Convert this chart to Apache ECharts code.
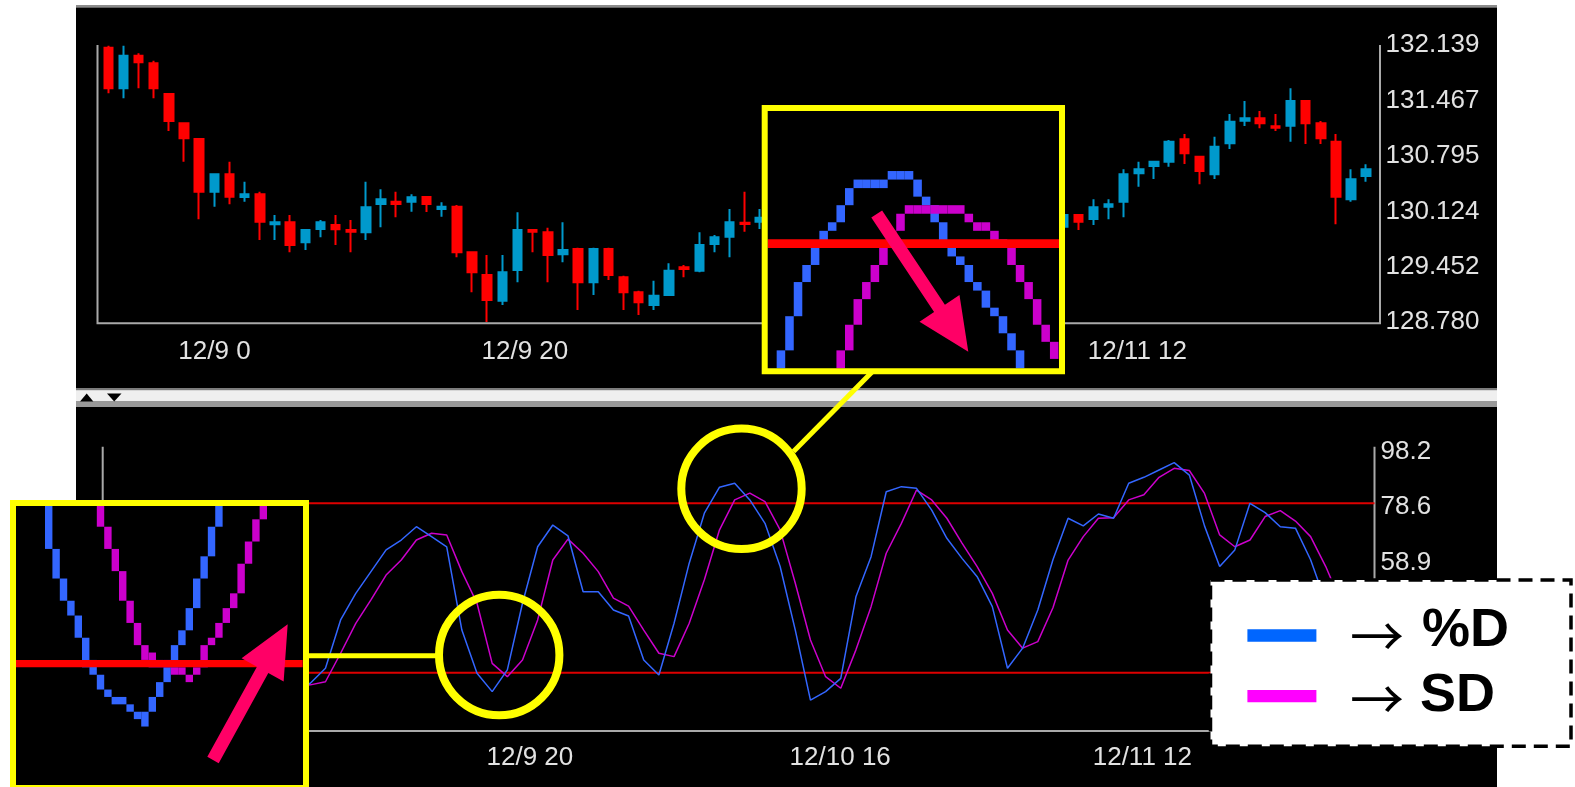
<!DOCTYPE html>
<html><head><meta charset="utf-8">
<script src="https://cdn.jsdelivr.net/npm/echarts@6/dist/echarts.min.js"></script>
<style>html,body{margin:0;padding:0;background:#fff}#c{width:1575px;height:787px}</style>
</head><body><div id="c"></div>
<script>
// ---------------- data ----------------
const priceTicks = [128.780, 129.452, 130.124, 130.795, 131.467, 132.139];
const stochTicks = [0, 19.6, 39.3, 58.9, 78.6, 98.2];
const levels = [20, 80];
const xTickIndex = [7, 27, 47, 67];

// hourly categories starting 12/8 17h
const times = [];
(function(){ let d = 8, h = 17; for (let i = 0; i < 84; i++) { times.push('12/' + d + ' ' + h); h++; if (h === 24) { h = 0; d++; } } })();

// [open, close, low, high]; '-' = hidden behind the inset box
const candles = [
 [132.110,131.617,131.557,132.134],[131.617,132.013,131.496,132.134],[132.013,131.933,131.617,132.042],[131.921,131.617,131.496,131.952],
 [131.548,131.220,131.099,131.560],[131.193,131.010,130.727,131.205],[131.002,130.362,130.028,131.010],[130.362,130.574,130.180,130.580],
 [130.574,130.302,130.210,130.727],[130.298,130.331,130.241,130.484],[130.331,129.998,129.776,130.362],[129.967,129.991,129.776,130.080],
 [129.991,129.716,129.627,130.080],[129.748,129.898,129.655,129.905],[129.910,129.991,129.809,130.019],[129.958,129.906,129.716,130.080],
 [129.898,129.877,129.627,130.019],[129.870,130.173,129.776,130.484],[130.213,130.270,129.930,130.392],[130.241,130.213,130.052,130.362],
 [130.241,130.295,130.120,130.331],[130.298,130.213,130.116,130.305],[130.153,130.180,130.059,130.234],[130.180,129.627,129.566,130.201],
 [129.627,129.384,129.142,129.630],[129.352,129.048,128.780,129.594],[129.040,129.384,128.988,129.594],[129.412,129.898,129.263,130.113],
 [129.898,129.877,129.627,129.900],[129.870,129.594,129.263,129.926],[129.603,129.655,129.506,129.991],[129.667,129.263,128.927,129.683],
 [129.263,129.667,129.109,129.683],[129.667,129.352,129.291,129.683],[129.324,129.142,128.927,129.343],[129.142,129.020,128.866,129.161],
 [128.988,129.100,128.927,129.282],[129.109,129.404,129.100,129.494],[129.445,129.424,129.324,129.473],[129.404,129.716,129.384,129.870],
 [129.728,129.809,129.627,129.837],[129.816,129.991,129.566,130.153],[129.986,129.971,129.877,130.362],[129.998,130.047,129.910,130.153],
 ['-','-','-','-'],['-','-','-','-'],['-','-','-','-'],['-','-','-','-'],['-','-','-','-'],['-','-','-','-'],['-','-','-','-'],
 ['-','-','-','-'],['-','-','-','-'],['-','-','-','-'],['-','-','-','-'],['-','-','-','-'],['-','-','-','-'],['-','-','-','-'],
 ['-','-','-','-'],['-','-','-','-'],['-','-','-','-'],['-','-','-','-'],['-','-','-','-'],
 [129.938,130.080,129.858,130.153],[130.080,129.998,129.898,130.080],[130.031,130.173,129.958,130.270],[130.180,130.210,130.028,130.270],
 [130.241,130.574,130.052,130.634],[130.586,130.634,130.423,130.727],[130.674,130.727,130.517,130.730],[130.727,130.969,130.666,130.990],
 [130.998,130.828,130.699,131.063],[130.787,130.614,130.452,130.790],[130.574,130.909,130.517,131.030],[130.950,131.212,130.881,131.305],
 [131.224,131.253,131.160,131.463],[131.253,131.193,131.132,131.342],[131.156,131.139,131.099,131.305],[131.163,131.463,130.969,131.617],
 [131.463,131.193,130.941,131.470],[131.193,131.010,130.941,131.220],[130.969,130.302,129.967,131.063],[130.270,130.513,130.241,130.634],
 [130.553,130.634,130.484,130.695]
];

// %D (blue) and SD (magenta)
const pctD = ['-','-','-','-','-','-','-','-','-','-','-','-',
 13,16.3,21.6,38.7,48.1,55.8,63.5,67.0,71.7,68.2,64.6,35.1,19.8,13.3,21.0,44.6,64.6,72.3,
 68.5,48.7,48.7,42.2,40.1,24.5,19.2,37.5,58.8,76.5,85.7,87.1,81.2,72.9,57.6,35.1,10.3,13.3,18.0,46.9,
 61.1,84.1,85.9,85.3,77.6,67.6,60.5,54.0,43.4,21.6,28.7,42.2,60.0,74.7,72.0,76.2,74.7,87.1,89.2,91.8,
 94.4,90.0,72.0,57.6,63.5,80.0,76.7,71.7,71.2,60.0,45,'-','-','-'];
const sdLine = ['-','-','-','-','-','-','-','-','-','-','-','-',
 15,15.7,16.8,26.9,37.5,45.8,54.6,59.9,67.0,69.4,68.8,55.8,44.6,23.3,18.6,24.5,38.7,59.9,
 67.3,62.3,55.8,46.4,43.6,35.1,26.9,25.7,37.5,52.9,70.6,81.2,83.6,80.6,70.6,51.7,31.6,18.6,14.5,28.1,
 43.4,62.3,72.9,84.7,81.2,74.7,65.9,57.6,48.1,35.1,28.7,31.0,43.0,59.9,68.2,74.7,74.9,81.2,83.0,89.2,
 92.4,91.6,83.5,68.8,64.6,67.0,75.3,77.4,73.7,68.2,57.6,45,'-','-'];

// magnified insets: [column, rowTop, rowBottom] in screen-pixel units of the zoomed region
const topInsetBlue = [[0,21,24],[1,17,21],[2,13,17],[3,11,13],[4,9,11],[5,7,9],[6,6,7],[7,4,6],[8,2,4],[9,1,2],[10,1,2],[11,1,2],[12,1,2],
 [13,0,1],[14,0,1],[15,0,1],[16,1,3],[17,3,4],[18,4,6],[19,6,9],[20,9,10],[21,10,11],[22,11,13],[23,13,14],[24,14,16],[25,16,17],
 [26,17,19],[27,19,21],[28,21,24]];
const topInsetMagenta = [[7,21,24],[8,18,21],[9,15,18],[10,13,15],[11,11,13],[12,9,11],[13,7,9],[14,5,7],[15,4,5],[16,4,5],[17,4,5],
 [18,4,5],[19,4,5],[20,4,5],[21,4,5],[22,5,6],[23,6,7],[24,6,7],[25,7,9],[26,8,9],[27,9,11],[28,11,13],[29,13,15],[30,15,18],
 [31,18,20],[32,20,22]];
const topInsetLevelRow = 8;
const botInsetBlue = [[0,-22,-15],[1,-15,-11],[2,-11,-8],[3,-8,-6],[4,-6,-3],[5,-3,1],[6,0,2],[7,2,4],[8,4,5],[9,5,6],[10,5,6],
 [11,6,7],[12,7,8],[13,7,9],[14,5,7],[15,3,5],[16,1,3],[17,-2,1],[18,-4,-2],[19,-7,-4],[20,-11,-7],[21,-14,-11],[22,-18,-14],[23,-22,-18]];
const botInsetMagenta = [[7,-22,-18],[8,-18,-15],[9,-15,-12],[10,-12,-8],[11,-8,-5],[12,-5,-2],[13,-2,0],[14,-1,1],[15,0,1],[16,0,1],
 [17,1,2],[18,1,2],[19,2,3],[20,1,2],[21,-2,1],[22,-3,-2],[23,-5,-3],[24,-7,-5],[25,-9,-7],[26,-13,-9],[27,-16,-13],[28,-19,-16],[29,-22,-19]];
const botInsetLevelRow = 0;

const legendNames = ['%D', 'SD'];

// ---------------- chart ----------------
const chart = echarts.init(document.getElementById('c'), null, {renderer: 'canvas'});
const AX = {fontFamily: 'Liberation Sans', fontSize: 26, color: '#e2e2e2'};

function cells(params, api) {
  const c = api.value(0), t = api.value(1), b = api.value(2);
  const p1 = api.coord([c, t]), p2 = api.coord([c + 1, b]);
  const r = echarts.graphic.clipRectByRect({
    x: Math.min(p1[0], p2[0]), y: Math.min(p1[1], p2[1]),
    width: Math.abs(p2[0] - p1[0]), height: Math.abs(p2[1] - p1[1])
  }, params.coordSys);
  return r && {type: 'rect', shape: r, style: {fill: api.visual('color')}};
}
function band(params, api) {
  const t = api.value(1), b = api.value(2);
  const cs = params.coordSys;
  const p1 = api.coord([0, t]), p2 = api.coord([0, b]);
  return {type: 'rect', shape: {x: cs.x, y: Math.min(p1[1], p2[1]), width: cs.width, height: Math.abs(p2[1] - p1[1])}, style: {fill: '#ff0000'}};
}

const xLabel = {
  interval: (i) => xTickIndex.indexOf(i) >= 0,
  formatter: (v) => '{t|' + v + '}',
  rich: {t: Object.assign({width: 72, align: 'left'}, AX)}
};

chart.setOption({
  animation: false,
  backgroundColor: '#ffffff',
  grid: [
    {left: 100.7, top: 45.3, width: 1273.1, height: 276.8},
    {left: 105.7, top: 451.9, width: 1273.1, height: 277.3},
    {left: 767.7, top: 111, width: 291.3, height: 257.3},
    {left: 16, top: 506, width: 286.7, height: 279}
  ],
  xAxis: [
    {type: 'category', gridIndex: 0, data: times, boundaryGap: true, axisLine: {show: false}, axisTick: {show: false},
     axisLabel: Object.assign({margin: 17}, xLabel), splitLine: {show: false}},
    {type: 'category', gridIndex: 1, data: times, boundaryGap: true, axisLine: {show: false}, axisTick: {show: false},
     axisLabel: Object.assign({margin: 16}, xLabel), splitLine: {show: false}},
    {type: 'value', gridIndex: 2, min: -1.05, max: 33.06, show: false},
    {type: 'value', gridIndex: 3, min: -3.92, max: 34.82, show: false}
  ],
  yAxis: [
    {type: 'value', gridIndex: 0, position: 'right', offset: 6.2, min: 128.780, max: 132.139,
     axisLine: {show: false}, axisTick: {show: false}, splitLine: {show: false},
     axisLabel: Object.assign({margin: 5.5, customValues: priceTicks, formatter: (v) => v.toFixed(3), padding: [0, 0, 4, 0]}, AX)},
    {type: 'value', gridIndex: 1, position: 'right', offset: -4.3, min: 0, max: 98.2,
     axisLine: {show: false}, axisTick: {show: false}, splitLine: {show: false},
     axisLabel: Object.assign({margin: 6, customValues: stochTicks, formatter: (v) => v.toFixed(1), padding: [0, 0, 4, 0]}, AX)},
    {type: 'value', gridIndex: 2, min: -7.03, max: 23.1, inverse: true, show: false},
    {type: 'value', gridIndex: 3, min: -20.8, max: 16.9, inverse: true, show: false}
  ],
  series: [
    {type: 'candlestick', xAxisIndex: 0, yAxisIndex: 0, data: candles, barWidth: 9,
     itemStyle: {color: '#0099cc', color0: '#ff0000', borderColor: '#0099cc', borderColor0: '#ff0000', borderWidth: 2}},
    {type: 'line', name: legendNames[1], xAxisIndex: 1, yAxisIndex: 1, data: sdLine, showSymbol: false,
     lineStyle: {color: '#cc00cc', width: 1.5}, itemStyle: {color: '#cc00cc'}},
    {type: 'line', name: legendNames[0], xAxisIndex: 1, yAxisIndex: 1, data: pctD, showSymbol: false,
     lineStyle: {color: '#3366ff', width: 1.5}, itemStyle: {color: '#3366ff'}},
    {type: 'custom', xAxisIndex: 2, yAxisIndex: 2, z: 11, data: topInsetBlue, encode: {x: 0, y: [1, 2]}, renderItem: cells, itemStyle: {color: '#3366ff'}},
    {type: 'custom', xAxisIndex: 2, yAxisIndex: 2, z: 11, data: topInsetMagenta, encode: {x: 0, y: [1, 2]}, renderItem: cells, itemStyle: {color: '#cc00cc'}},
    {type: 'custom', xAxisIndex: 2, yAxisIndex: 2, z: 12, data: [[0, topInsetLevelRow, topInsetLevelRow + 1]], encode: {x: 0, y: [1, 2]}, renderItem: band},
    {type: 'custom', xAxisIndex: 3, yAxisIndex: 3, z: 11, data: botInsetBlue, encode: {x: 0, y: [1, 2]}, renderItem: cells, itemStyle: {color: '#3366ff'}},
    {type: 'custom', xAxisIndex: 3, yAxisIndex: 3, z: 11, data: botInsetMagenta, encode: {x: 0, y: [1, 2]}, renderItem: cells, itemStyle: {color: '#cc00cc'}},
    {type: 'custom', xAxisIndex: 3, yAxisIndex: 3, z: 12, data: [[0, botInsetLevelRow, botInsetLevelRow + 1]], encode: {x: 0, y: [1, 2]}, renderItem: band}
  ]
});

// ---------------- decorations ----------------
function arrowPoly(tail, tip, shaftHalf, headLen, headHalf) {
  const dx = tip[0] - tail[0], dy = tip[1] - tail[1], L = Math.hypot(dx, dy);
  const ux = dx / L, uy = dy / L, nx = -uy, ny = ux;
  const bx = tip[0] - ux * headLen, by = tip[1] - uy * headLen;
  return [[tail[0] + nx * shaftHalf, tail[1] + ny * shaftHalf], [bx + nx * shaftHalf, by + ny * shaftHalf],
          [bx + nx * headHalf, by + ny * headHalf], tip, [bx - nx * headHalf, by - ny * headHalf],
          [bx - nx * shaftHalf, by - ny * shaftHalf], [tail[0] - nx * shaftHalf, tail[1] - ny * shaftHalf]];
}
const G = [];
const PW = 1421; // panel width (x 76 .. 1497)
const rect = (x, y, w, h, fill, z) => G.push({type: 'rect', z: z, silent: true, shape: {x, y, width: w, height: h}, style: {fill}});
// panels
rect(76, 5, PW, 2.5, '#8c8c8c', -5);
rect(76, 7.5, PW, 380.5, '#000000', -5);
rect(76, 388, PW, 2.5, '#7c7c7c', -5);
rect(76, 390.5, PW, 10.5, '#efefef', -5);
rect(76, 401, PW, 6, '#999999', -5);
rect(76, 407, PW, 380, '#000000', -5);
G.push({type: 'polygon', z: -4, shape: {points: [[80, 401.5], [86.7, 393.5], [93.3, 401.5]]}, style: {fill: '#000'}});
G.push({type: 'polygon', z: -4, shape: {points: [[107, 393.5], [121.5, 393.5], [114.2, 401.5]]}, style: {fill: '#000'}});
// axis frames
G.push({type: 'polyline', z: 1, shape: {points: [[97.5, 45], [97.5, 323.3], [1380, 323.3], [1380, 45]]}, style: {stroke: '#a9a9a9', lineWidth: 2, fill: null}});
G.push({type: 'polyline', z: 1, shape: {points: [[102.7, 446.7], [102.7, 731], [1374.5, 731], [1374.5, 446.7]]}, style: {stroke: '#a9a9a9', lineWidth: 2, fill: null}});
// level lines 20 / 80
levels.forEach(function (lv) {
  const y = chart.convertToPixel({yAxisIndex: 1}, lv);
  G.push({type: 'line', z: 1, shape: {x1: 102.7, y1: y, x2: 1374.5, y2: y}, style: {stroke: '#dd0000', lineWidth: 2}});
});
// inset boxes (black fill under the magnified pixels)
G.push({type: 'rect', z: 10, shape: {x: 764.7, y: 108, width: 297.3, height: 263.3}, style: {fill: '#000'}});
G.push({type: 'rect', z: 10, shape: {x: 13, y: 503, width: 293, height: 285}, style: {fill: '#000'}});
// yellow borders, circles, connectors
const Y = '#ffff00';
G.push({type: 'rect', z: 14, shape: {x: 764.7, y: 108, width: 297.3, height: 263.3}, style: {fill: null, stroke: Y, lineWidth: 6}});
G.push({type: 'rect', z: 14, shape: {x: 13, y: 503, width: 293, height: 285}, style: {fill: null, stroke: Y, lineWidth: 6}});
G.push({type: 'circle', z: 14, shape: {cx: 741.5, cy: 488.8, r: 60.2}, style: {fill: null, stroke: Y, lineWidth: 8}});
G.push({type: 'circle', z: 14, shape: {cx: 499.2, cy: 655, r: 60.2}, style: {fill: null, stroke: Y, lineWidth: 8}});
G.push({type: 'line', z: 14, shape: {x1: 873, y1: 371, x2: 793.5, y2: 451.6}, style: {stroke: Y, lineWidth: 5}});
G.push({type: 'line', z: 14, shape: {x1: 306, y1: 655.8, x2: 437, y2: 655.8}, style: {stroke: Y, lineWidth: 5}});
// pink arrows
G.push({type: 'polygon', z: 13, shape: {points: arrowPoly([876.7, 214], [968.3, 351.7], 6.5, 52, 24)}, style: {fill: '#ff0066'}});
G.push({type: 'polygon', z: 13, shape: {points: arrowPoly([213, 760], [287.7, 624.3], 6.5, 52, 24)}, style: {fill: '#ff0066'}});
// legend box
G.push({type: 'rect', z: 20, shape: {x: 1210.5, y: 580, width: 360.5, height: 166.3}, style: {fill: '#fff', stroke: '#000', lineWidth: 3.5, lineDash: [14, 8]}});
G.push({type: 'rect', z: 21, shape: {x: 1247.4, y: 629.3, width: 69, height: 12.4}, style: {fill: '#0066ff'}});
G.push({type: 'rect', z: 21, shape: {x: 1247.4, y: 690, width: 69, height: 12.3}, style: {fill: '#ff00ff'}});
[[636.2, 631.5, legendNames[0], 1422], [699.0, 696, legendNames[1], 1420]].forEach(function (r) {
  G.push({type: 'text', z: 21, x: 1350, y: r[0], style: {text: '\u2192', font: '54px "Noto Sans CJK JP"', fill: '#000', verticalAlign: 'middle'}});
  G.push({type: 'text', z: 21, x: r[3], y: r[1], style: {text: r[2], font: 'bold 54px "Liberation Sans"', fill: '#000', verticalAlign: 'middle'}});
});
chart.setOption({graphic: {elements: G}});
</script></body></html>
